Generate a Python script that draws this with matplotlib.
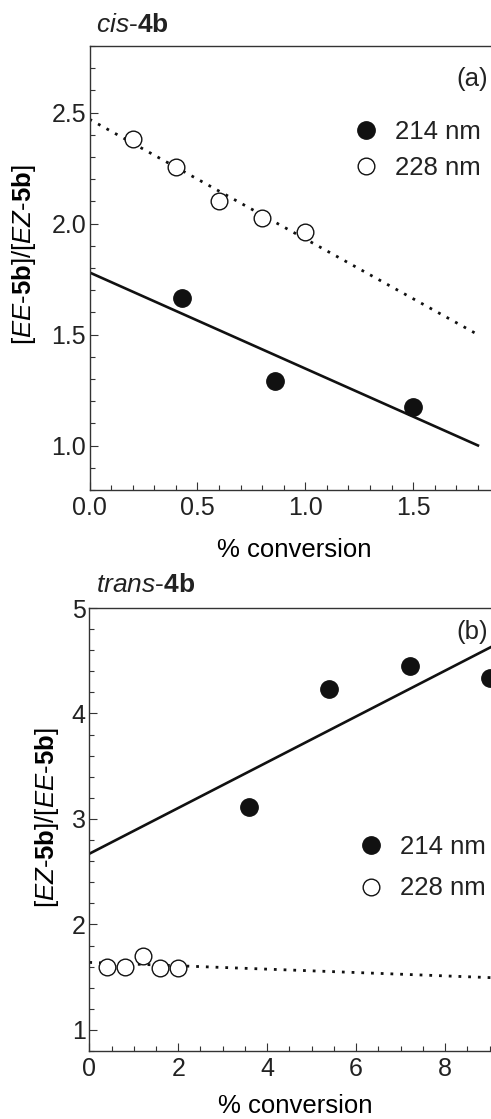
import numpy as np
import matplotlib.pyplot as plt
from matplotlib.ticker import MultipleLocator, FormatStrFormatter

plt.rcParams['font.family'] = ['Liberation Sans', 'DejaVu Sans']
plt.rcParams['mathtext.fontset'] = 'custom'
plt.rcParams['mathtext.rm'] = 'Liberation Sans'
plt.rcParams['mathtext.it'] = 'Liberation Sans:italic'
plt.rcParams['mathtext.bf'] = 'Liberation Sans:bold'
plt.rcParams['text.color'] = '#222222'

# panel (a): cis-4b
a_x_214 = [0.43, 0.86, 1.50]
a_y_214 = [1.665, 1.29, 1.175]
a_x_228 = [0.2, 0.4, 0.6, 0.8, 1.0]
a_y_228 = [2.38, 2.255, 2.10, 2.025, 1.96]
a_fit_214 = [1.78, -0.433]   # intercept, slope
a_fit_228 = [2.47, -0.539]
a_fit_x = [0.0, 1.8]

# panel (b): trans-4b
b_x_214 = [3.6, 5.4, 7.2, 9.0]
b_y_214 = [3.11, 4.23, 4.45, 4.34]
b_x_228 = [0.4, 0.8, 1.2, 1.6, 2.0]
b_y_228 = [1.60, 1.60, 1.70, 1.585, 1.59]
b_fit_214 = [2.67, 0.217]
b_fit_228 = [1.64, -0.016]
b_fit_x = [0.0, 9.25]

W, H = 491, 1119
fig = plt.figure(figsize=(W / 100, H / 100), dpi=100)

def px(x0, y_top, w, h):
    # pixel box -> figure fraction
    return [x0 / W, 1 - (y_top + h) / H, w / W, h / H]

ax_a = fig.add_axes(px(89.5, 46, 410, 444))
ax_b = fig.add_axes(px(89.3, 608, 411.4, 443))

spine_col = '#333333'
dot = (0, (1, 2.5))


def style(ax):
    ax.spines['right'].set_visible(False)
    for s in ['left', 'bottom', 'top']:
        ax.spines[s].set_color(spine_col)
        ax.spines[s].set_linewidth(1.0)
    ax.tick_params(which='both', direction='in', top=False, right=False,
                   color=spine_col, width=0.8, labelsize=18, labelcolor='#222222')
    ax.tick_params(which='major', length=6)
    ax.tick_params(which='minor', length=3.6)
    ax.tick_params(axis='x', pad=4)
    ax.tick_params(axis='y', pad=2.5)


def draw(ax, fx, f214, f228, x214, y214, x228, y228):
    fx = np.array(fx)
    ax.plot(fx, f214[0] + f214[1] * fx, color='#111111', lw=1.9, zorder=2)
    ax.plot(fx, f228[0] + f228[1] * fx, color='#111111', lw=2.0,
            linestyle=dot, dash_capstyle='butt', zorder=2)
    ax.plot(x214, y214, ls='none', marker='o', ms=12.5, mfc='#111111',
            mec='#111111', label='214 nm', zorder=3)
    ax.plot(x228, y228, ls='none', marker='o', ms=12, mfc='white',
            mec='#111111', mew=1.0, label='228 nm', zorder=3)


# ---- panel (a)
style(ax_a)
draw(ax_a, a_fit_x, a_fit_214, a_fit_228, a_x_214, a_y_214, a_x_228, a_y_228)
ax_a.set_xlim(0, 1.9)
ax_a.set_ylim(0.8, 2.8)
ax_a.xaxis.set_major_locator(MultipleLocator(0.5))
ax_a.xaxis.set_minor_locator(MultipleLocator(0.1))
ax_a.yaxis.set_major_locator(MultipleLocator(0.5))
ax_a.yaxis.set_minor_locator(MultipleLocator(0.1))
ax_a.xaxis.set_major_formatter(FormatStrFormatter('%.1f'))
ax_a.yaxis.set_major_formatter(FormatStrFormatter('%.1f'))
ax_a.set_xlabel('% conversion', fontsize=18.5, labelpad=13)
ax_a.set_ylabel(r'[$\mathit{EE}$-$\mathbf{5b}$]/[$\mathit{EZ}$-$\mathbf{5b}$]', fontsize=18.5)
ax_a.yaxis.set_label_coords(-0.125, 0.53)
ax_a.legend(loc='center left', bbox_to_anchor=(353 / W, 1 - 150 / H),
            bbox_transform=fig.transFigure, frameon=False, fontsize=18.5,
            handlelength=1.0, handletextpad=0.65, labelspacing=0.45,
            borderpad=0, borderaxespad=0)
fig.text(96 / W, 1 - 25 / H, r'$\mathit{cis}$-$\mathbf{4b}$', fontsize=19,
         ha='left', va='center')
fig.text(488 / W, 1 - 79 / H, '(a)', fontsize=18.5, ha='right', va='center')

# ---- panel (b)
style(ax_b)
draw(ax_b, b_fit_x, b_fit_214, b_fit_228, b_x_214, b_y_214, b_x_228, b_y_228)
ax_b.set_xlim(0, 9.25)
ax_b.set_ylim(0.8, 5.0)
ax_b.xaxis.set_major_locator(MultipleLocator(2))
ax_b.xaxis.set_minor_locator(MultipleLocator(0.5))
ax_b.yaxis.set_major_locator(MultipleLocator(1))
ax_b.yaxis.set_minor_locator(MultipleLocator(0.2))
ax_b.set_xlabel('% conversion', fontsize=18.5, labelpad=10)
ax_b.set_ylabel(r'[$\mathit{EZ}$-$\mathbf{5b}$]/[$\mathit{EE}$-$\mathbf{5b}$]', fontsize=18.5)
ax_b.yaxis.set_label_coords(-0.069, 0.526)
ax_b.legend(loc='center left', bbox_to_anchor=(358 / W, 1 - 867.5 / H),
            bbox_transform=fig.transFigure, frameon=False, fontsize=18.5,
            handlelength=1.0, handletextpad=0.65, labelspacing=0.7,
            borderpad=0, borderaxespad=0)
fig.text(96 / W, 1 - 585 / H, r'$\mathit{trans}$-$\mathbf{4b}$', fontsize=19,
         ha='left', va='center')
fig.text(488 / W, 1 - 632 / H, '(b)', fontsize=18.5, ha='right', va='center')

fig.savefig('out.png', dpi=100)
